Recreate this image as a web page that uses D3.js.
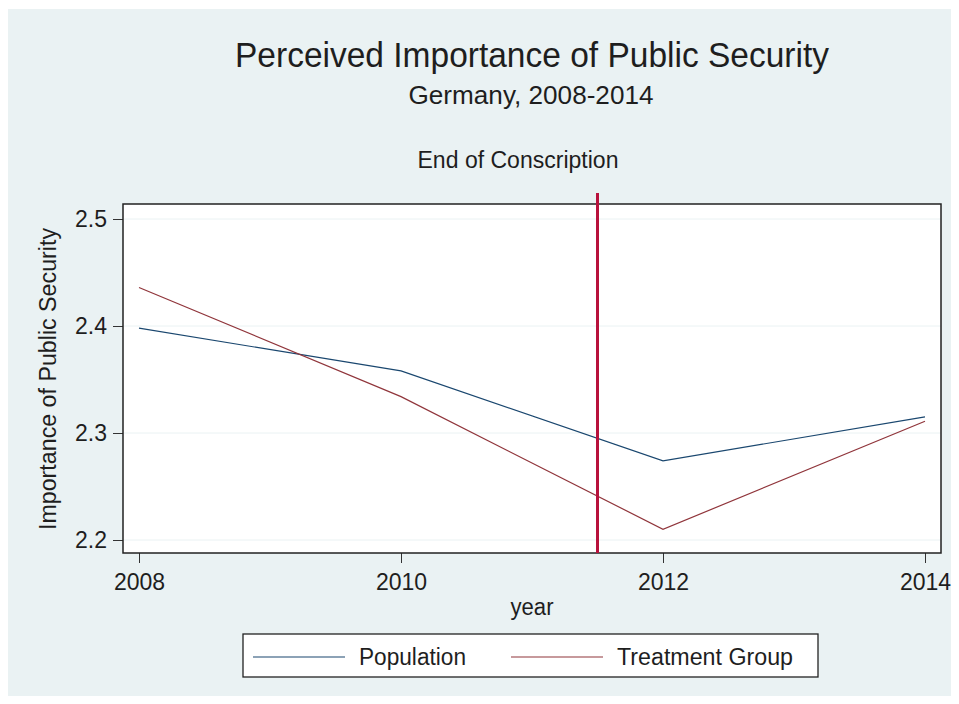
<!DOCTYPE html>
<html>
<head>
<meta charset="utf-8">
<script src="https://cdn.jsdelivr.net/npm/d3@7"></script>
<style>
  body { margin: 0; background: #ffffff; }
  text { font-family: "Liberation Sans", Arial, sans-serif; fill: #1e1e1e; }
</style>
</head>
<body>
<div id="chart"></div>
<script>
// data
var years = [2008, 2010, 2012, 2014];
var population = [2.398, 2.358, 2.274, 2.315];
var treatment = [2.436, 2.334, 2.210, 2.311];
var xTicks = [2008, 2010, 2012, 2014];
var yTicks = [2.2, 2.3, 2.4, 2.5];
var conscriptionYear = 2011.5;
var seriesNames = ["Population", "Treatment Group"];

// plot box
var box = {left: 123, right: 941, top: 204, bottom: 553};

var svg = d3.select("#chart")
  .append("svg")
    .attr("width", 959)
    .attr("height", 704);

// outer background
svg.append("rect")
  .attr("x", 8).attr("y", 9)
  .attr("width", 943).attr("height", 687)
  .attr("fill", "#eaf2f3");

svg.append("rect")
  .attr("x", box.left).attr("y", box.top)
  .attr("width", box.right - box.left).attr("height", box.bottom - box.top)
  .attr("fill", "#ffffff");

var x = d3.scaleLinear()
  .domain([2008, 2014])
  .range([139, 925]);

var y = d3.scaleLinear()
  .domain([2.2, 2.5])
  .range([540, 219]);

// grid lines
svg.append("g")
  .selectAll("line")
  .data(yTicks)
  .enter()
  .append("line")
    .attr("x1", box.left).attr("x2", box.right)
    .attr("y1", function(d) { return y(d); })
    .attr("y2", function(d) { return y(d); })
    .attr("stroke", "#eaf2f3")
    .attr("stroke-width", 1);

// Y axis
var yAxis = svg.append("g")
  .attr("transform", "translate(" + box.left + ",0)")
  .call(d3.axisLeft(y).tickValues(yTicks).tickFormat(d3.format(".1f")).tickSize(10).tickPadding(6));
yAxis.select(".domain").remove();
yAxis.selectAll("text").style("font-size", "23px").attr("fill", "#1e1e1e");
yAxis.selectAll("line").attr("stroke", "#333");

// X axis
var xAxis = svg.append("g")
  .attr("transform", "translate(0," + box.bottom + ")")
  .call(d3.axisBottom(x).tickValues(xTicks).tickFormat(d3.format("d")).tickSize(10).tickPadding(11));
xAxis.select(".domain").remove();
xAxis.selectAll("text").style("font-size", "23px").attr("fill", "#1e1e1e");
xAxis.selectAll("line").attr("stroke", "#333");

// the lines
var line = d3.line()
  .x(function(d) { return x(d[0]); })
  .y(function(d) { return y(d[1]); });

svg.append("path")
  .datum(d3.zip(years, population))
  .attr("fill", "none")
  .attr("stroke", "#1a476f")
  .attr("stroke-width", 1.2)
  .attr("d", line);

svg.append("path")
  .datum(d3.zip(years, treatment))
  .attr("fill", "none")
  .attr("stroke", "#90353b")
  .attr("stroke-width", 1.2)
  .attr("d", line);

// plot border
svg.append("rect")
  .attr("x", box.left).attr("y", box.top)
  .attr("width", box.right - box.left).attr("height", box.bottom - box.top)
  .attr("fill", "none")
  .attr("stroke", "#222")
  .attr("stroke-width", 1.5);

// end of conscription line
svg.append("line")
  .attr("x1", x(conscriptionYear)).attr("x2", x(conscriptionYear))
  .attr("y1", box.top - 11).attr("y2", box.bottom)
  .attr("stroke", "#b8123c")
  .attr("stroke-width", 3);

// titles
svg.append("text")
  .attr("x", 532).attr("y", 67)
  .attr("text-anchor", "middle")
  .attr("textLength", 594).attr("lengthAdjust", "spacingAndGlyphs")
  .style("font-size", "35px")
  .text("Perceived Importance of Public Security");

svg.append("text")
  .attr("x", 531).attr("y", 104)
  .attr("text-anchor", "middle")
  .attr("textLength", 245).attr("lengthAdjust", "spacingAndGlyphs")
  .style("font-size", "25px")
  .text("Germany, 2008-2014");

svg.append("text")
  .attr("x", 518).attr("y", 168)
  .attr("text-anchor", "middle")
  .attr("textLength", 201).attr("lengthAdjust", "spacingAndGlyphs")
  .style("font-size", "23px")
  .text("End of Conscription");

// axis titles
svg.append("text")
  .attr("transform", "translate(56,379) rotate(-90)")
  .attr("text-anchor", "middle")
  .attr("textLength", 302).attr("lengthAdjust", "spacingAndGlyphs")
  .style("font-size", "23px")
  .text("Importance of Public Security");

svg.append("text")
  .attr("x", 532).attr("y", 615)
  .attr("text-anchor", "middle")
  .attr("textLength", 43).attr("lengthAdjust", "spacingAndGlyphs")
  .style("font-size", "23px")
  .text("year");

// legend
var legend = svg.append("g");
legend.append("rect")
  .attr("x", 243).attr("y", 634)
  .attr("width", 575).attr("height", 43)
  .attr("fill", "#ffffff")
  .attr("stroke", "#222")
  .attr("stroke-width", 1.3);

var legendColors = ["#1a476f", "#90353b"];
var legendLineX = [253, 511];
var legendTextX = [359, 617];
var legendTextW = [107, 176];

seriesNames.forEach(function(name, i) {
  legend.append("line")
    .attr("x1", legendLineX[i]).attr("x2", legendLineX[i] + 92)
    .attr("y1", 657).attr("y2", 657)
    .attr("stroke", legendColors[i])
    .attr("stroke-width", 1.2);
  legend.append("text")
    .attr("x", legendTextX[i]).attr("y", 665)
    .attr("textLength", legendTextW[i]).attr("lengthAdjust", "spacingAndGlyphs")
    .style("font-size", "23px")
    .text(name);
});
</script>
</body>
</html>
